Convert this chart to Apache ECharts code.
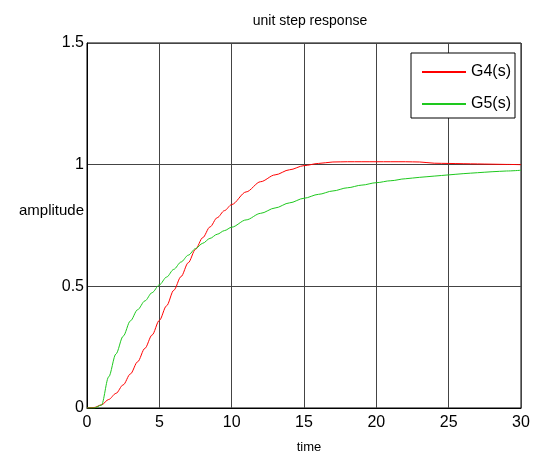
<!DOCTYPE html>
<html>
<head>
<meta charset="utf-8">
<script src="https://cdn.jsdelivr.net/npm/echarts@6/dist/echarts.min.js"></script>
<style>
  html, body { margin: 0; padding: 0; background: #fff; }
  #main { width: 536px; height: 452px; }
</style>
</head>
<body>
<div id="main"></div>
<script>
// time samples (s)
var times = [0, 0.5, 1, 1.5, 2, 2.5, 3, 3.5, 4, 4.5, 5, 5.5, 6, 6.5, 7, 7.5, 8, 8.5, 9, 9.5,
  10, 11, 12, 13, 14, 15, 16, 17, 18, 19, 20, 21, 22, 23, 24, 25, 26, 27, 28, 29, 30];

// step response of G4(s)
var g4 = [0, 0.002, 0.013, 0.035, 0.06, 0.095, 0.14, 0.19, 0.245, 0.30, 0.36, 0.42, 0.484, 0.54, 0.597, 0.652, 0.70, 0.744, 0.782, 0.811,
  0.836, 0.888, 0.93, 0.958, 0.979, 0.996, 1.005, 1.011, 1.012, 1.012, 1.012, 1.012, 1.012, 1.011, 1.006, 1.005, 1.004, 1.003, 1.002, 1.001, 1.0];

// step response of G5(s)
var g5 = [0, 0, 0.012, 0.128, 0.222, 0.295, 0.358, 0.404, 0.44, 0.474, 0.506, 0.538, 0.57, 0.6, 0.628, 0.655, 0.677, 0.697, 0.714, 0.729,
  0.743, 0.773, 0.8, 0.822, 0.843, 0.862, 0.878, 0.892, 0.905, 0.916, 0.926, 0.934, 0.942, 0.948, 0.953, 0.958, 0.963, 0.967, 0.971, 0.974, 0.977];

var seriesNames = ['G4(s)', 'G5(s)'];
var xTicks = { min: 0, max: 30, step: 5 };
var yTicks = { min: 0, max: 1.5, step: 0.5 };

function pairs(xs, ys) {
  return xs.map(function (x, i) { return [x, ys[i]]; });
}

var myChart = echarts.init(document.getElementById('main'));

var font = 'Liberation Sans, Arial, sans-serif';

var option = {
  backgroundColor: '#fff',
  animation: false,
  title: [{
    text: 'unit step response',
    left: 305,
    top: 9,
    textAlign: 'center',
    textStyle: { fontFamily: font, fontSize: 14, fontWeight: 'normal', color: '#000' }
  }, {
    text: 'amplitude',
    left: 14,
    top: 198,
    textStyle: { fontFamily: font, fontSize: 15, fontWeight: 'normal', color: '#000' }
  }, {
    text: 'time',
    left: 304,
    top: 436,
    textAlign: 'center',
    textStyle: { fontFamily: font, fontSize: 13, fontWeight: 'normal', color: '#000' }
  }],
  legend: {
    orient: 'vertical',
    right: 21,
    top: 53,
    data: seriesNames,
    itemWidth: 44,
    itemHeight: 14,
    itemGap: 16,
    padding: [11, 4, 6, 10],
    borderColor: '#000',
    borderWidth: 1,
    backgroundColor: '#fff',
    itemStyle: { opacity: 0 },
    textStyle: { fontFamily: font, fontSize: 16, color: '#000' }
  },
  grid: {
    left: 87,
    right: 15,
    top: 43,
    bottom: 44,
    show: true,
    borderColor: '#000',
    borderWidth: 1,
    backgroundColor: '#fff'
  },
  xAxis: {
    type: 'value',
    min: xTicks.min,
    max: xTicks.max,
    interval: xTicks.step,
    axisLine: { show: true, onZero: false, lineStyle: { color: '#000', width: 1 } },
    axisTick: { show: false },
    splitLine: { show: true, lineStyle: { color: '#444', width: 1 } },
    axisLabel: { color: '#000', fontFamily: font, fontSize: 16, margin: 7 }
  },
  yAxis: {
    type: 'value',
    min: yTicks.min,
    max: yTicks.max,
    interval: yTicks.step,
    axisLine: { show: true, onZero: false, lineStyle: { color: '#000', width: 1 } },
    axisTick: { show: false },
    splitLine: { show: true, lineStyle: { color: '#444', width: 1 } },
    axisLabel: { color: '#000', fontFamily: font, fontSize: 16, margin: 3 }
  },
  series: [{
    name: seriesNames[0],
    type: 'line',
    symbol: 'none',
    smooth: 0.3,
    smoothMonotone: 'x',
    lineStyle: { color: '#ff0000', width: 1 },
    itemStyle: { color: '#ff0000' },
    data: pairs(times, g4)
  }, {
    name: seriesNames[1],
    type: 'line',
    symbol: 'none',
    smooth: 0.3,
    smoothMonotone: 'x',
    lineStyle: { color: '#1ec81e', width: 1 },
    itemStyle: { color: '#1ec81e' },
    data: pairs(times, g5)
  }]
};

myChart.setOption(option);
</script>
</body>
</html>
